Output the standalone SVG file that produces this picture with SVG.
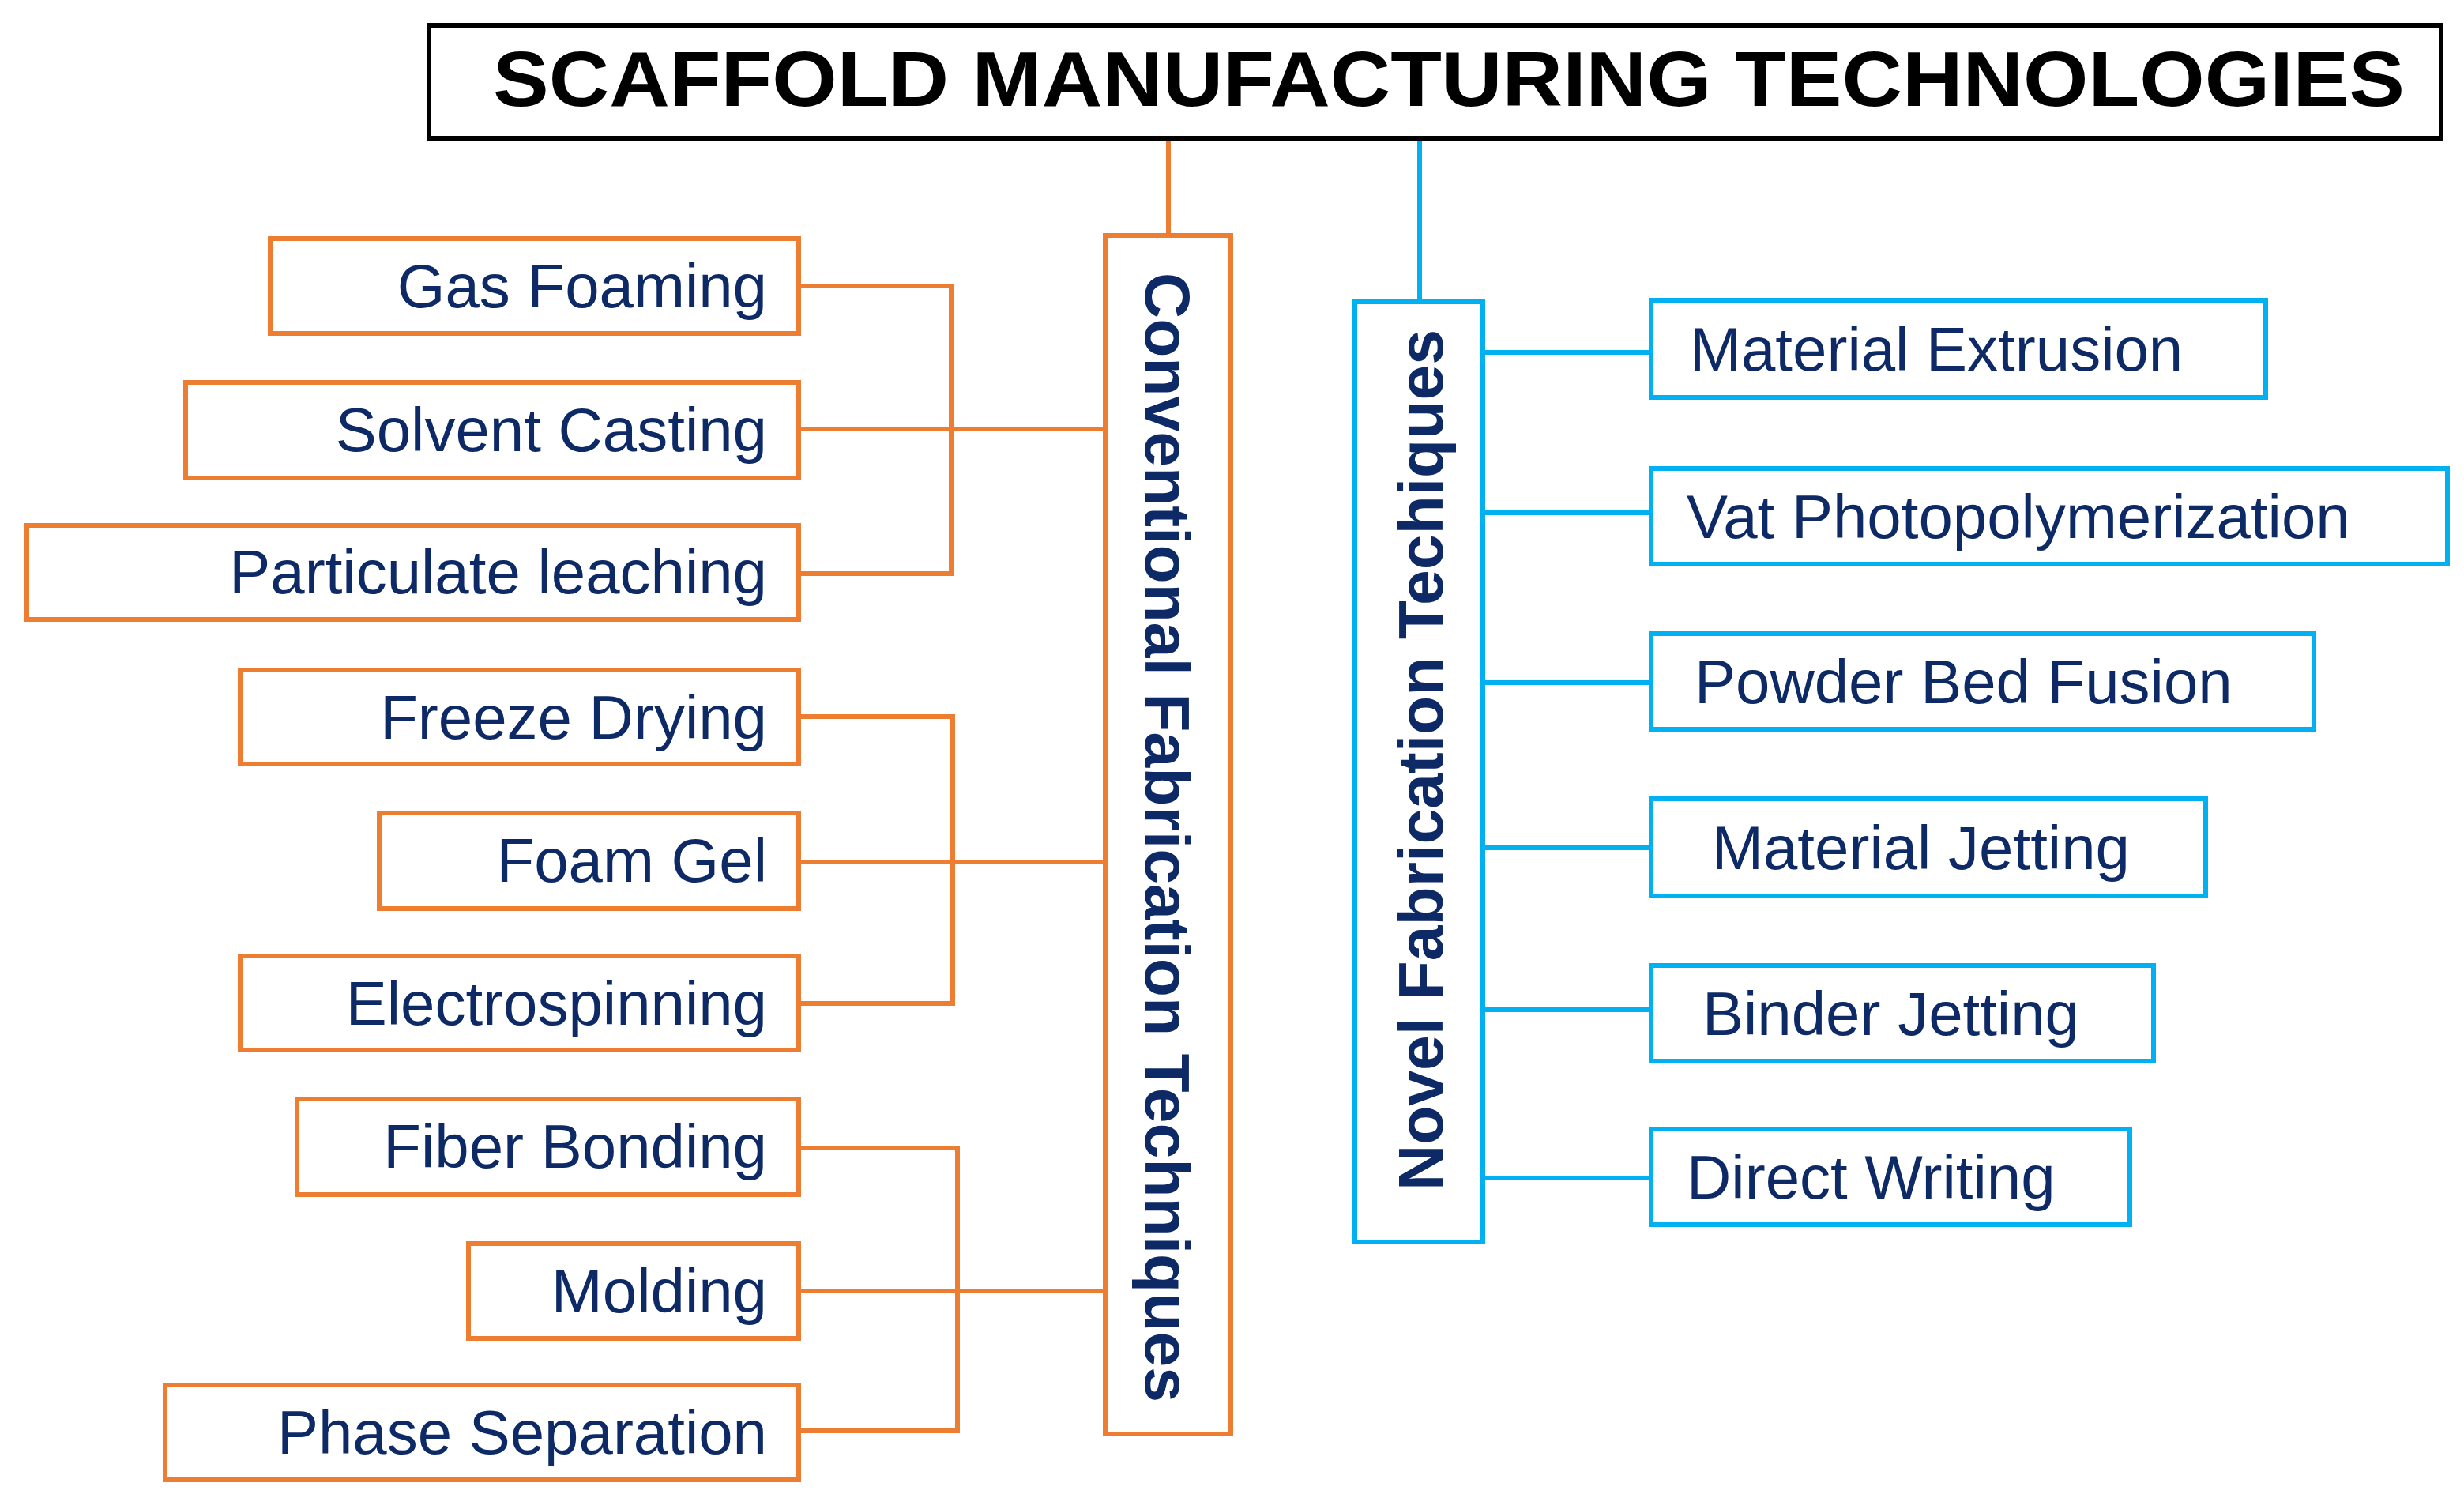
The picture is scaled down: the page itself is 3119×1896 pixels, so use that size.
<svg xmlns="http://www.w3.org/2000/svg" width="3119" height="1896" viewBox="0 0 3119 1896">
<style>
.o{fill:#fff;stroke:#ED7D31;stroke-width:6}
.b{fill:#fff;stroke:#00B0F0;stroke-width:6}
.t{font-family:"Liberation Sans",Arial,sans-serif;font-size:78px;fill:#0D2A66}
.l{text-anchor:end}
.v{font-family:"Liberation Sans",Arial,sans-serif;font-size:80px;font-weight:bold;fill:#0D2A66;text-anchor:middle}
#conn .oc{stroke:#ED7D31;stroke-width:6;fill:none}
#conn .bc{stroke:#00B0F0;stroke-width:6;fill:none}
</style>
<rect width="3119" height="1896" fill="#fff"/>
<g id="conn">
<path class="oc" d="M1479 175V298"/>
<path class="bc" d="M1797 175V382"/>
<path class="oc" d="M1011 362H1204V726H1011M1011 543H1399"/>
<path class="oc" d="M1011 907H1206V1270H1011M1011 1091H1399"/>
<path class="oc" d="M1011 1453H1212V1811H1011M1011 1634H1399"/>
<path class="bc" d="M1877 446H2090M1877 649H2090M1877 864H2090M1877 1073H2090M1877 1278H2090M1877 1491H2090"/>
</g>
<g id="title"><rect x="543" y="32" width="2547" height="143" fill="#fff" stroke="#000" stroke-width="6"/>
<text x="1834" y="134" text-anchor="middle" font-family="Liberation Sans,Arial,sans-serif" font-weight="bold" font-size="98" textLength="2420" lengthAdjust="spacingAndGlyphs">SCAFFOLD MANUFACTURING TECHNOLOGIES</text></g>
<g id="conventional"><rect class="o" x="1399" y="298" width="159" height="1517"/>
<text class="v" transform="translate(1450 1060) rotate(90)" textLength="1430" lengthAdjust="spacingAndGlyphs">Conventional Fabrication Techniques</text></g>
<g id="novel"><rect class="b" x="1715" y="382" width="162" height="1190"/>
<text class="v" transform="translate(1826 962) rotate(-90)" textLength="1090" lengthAdjust="spacingAndGlyphs">Novel Fabrication Techiques</text></g>
<g id="gas"><rect class="o" x="342" y="302" width="669" height="120"/><text class="t l" x="971" y="389">Gas Foaming</text></g>
<g id="solvent"><rect class="o" x="235" y="484" width="776" height="121"/><text class="t l" x="971" y="571">Solvent Casting</text></g>
<g id="particulate"><rect class="o" x="34" y="665" width="977" height="119"/><text class="t l" x="971" y="751">Particulate leaching</text></g>
<g id="freeze"><rect class="o" x="304" y="848" width="707" height="119"/><text class="t l" x="971" y="935">Freeze Drying</text></g>
<g id="foamgel"><rect class="o" x="480" y="1029" width="531" height="121"/><text class="t l" x="971" y="1116">Foam Gel</text></g>
<g id="electro"><rect class="o" x="304" y="1210" width="707" height="119"/><text class="t l" x="971" y="1297">Electrospinning</text></g>
<g id="fiber"><rect class="o" x="376" y="1391" width="635" height="121"/><text class="t l" x="971" y="1478">Fiber Bonding</text></g>
<g id="molding"><rect class="o" x="593" y="1574" width="418" height="120"/><text class="t l" x="971" y="1661">Molding</text></g>
<g id="phase"><rect class="o" x="209" y="1753" width="802" height="120"/><text class="t l" x="971" y="1840">Phase Separation</text></g>
<g id="matext"><rect class="b" x="2090" y="380" width="778" height="123"/><text class="t" x="2139" y="469">Material Extrusion</text></g>
<g id="vat"><rect class="b" x="2090" y="593" width="1008" height="121"/><text class="t" x="2135" y="681">Vat Photopolymerization</text></g>
<g id="powder"><rect class="b" x="2090" y="802" width="839" height="121"/><text class="t" x="2145" y="890">Powder Bed Fusion</text></g>
<g id="matjet"><rect class="b" x="2090" y="1011" width="702" height="123"/><text class="t" x="2167" y="1100">Material Jetting</text></g>
<g id="binder"><rect class="b" x="2090" y="1222" width="636" height="121"/><text class="t" x="2155" y="1310">Binder Jetting</text></g>
<g id="direct"><rect class="b" x="2090" y="1429" width="606" height="121"/><text class="t" x="2135" y="1517">Direct Writing</text></g>
</svg>
